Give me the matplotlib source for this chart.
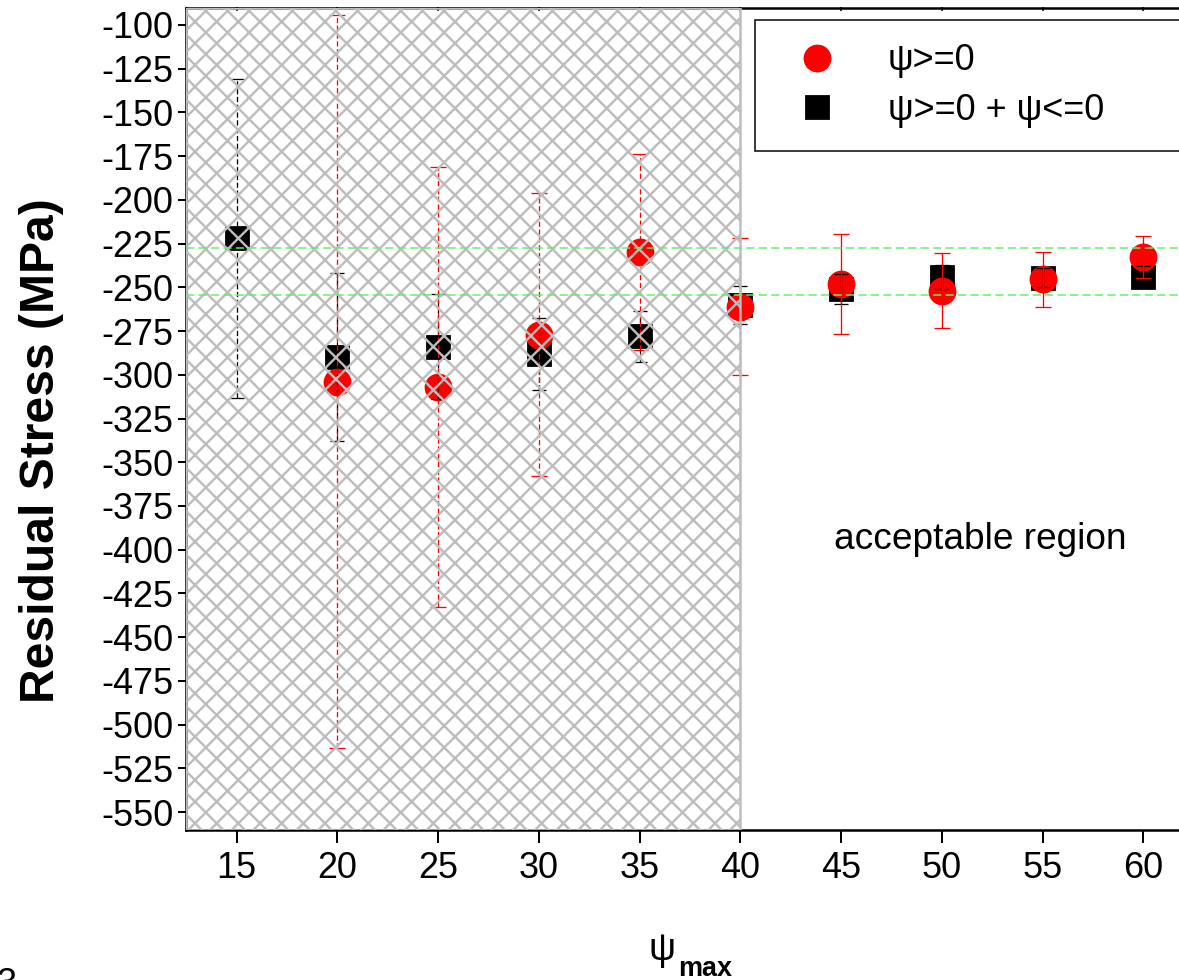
import numpy as np
import matplotlib
matplotlib.use('Agg')
import matplotlib.pyplot as plt

# --- data ---
psi_max = np.array([15, 20, 25, 30, 35, 40, 45, 50, 55, 60])

# psi>=0 + psi<=0 (black squares)
both_val = np.array([-222, -290, -284, -288, -278, -260, -251, -244, -244.5, -244])
both_err = np.array([91, 48, 30, 20.5, 14.6, 11, 8.7, 7, 5.5, 6])

# psi>=0 (red circles), no point at 15
pos_x = np.array([20, 25, 30, 35, 40, 45, 50, 55, 60])
pos_val = np.array([-304, -307, -277, -230, -261, -248, -252, -245.5, -232.5])
pos_err = np.array([209.5, 126, 81, 56, 39, 28.6, 21.5, 15.5, 12])

band = [-227.5, -254.4]      # green reference lines
hatch_limit = 40             # below this psi_max the region is excluded
y_ticks = np.arange(-550, -99, 25)
x_ticks = np.arange(15, 61, 5)

# --- figure setup (pixel based: 1179x980 @ 130 dpi) ---
DPI = 130
W, H = 1179, 980
def pt(px):
    return px * 72.0 / DPI

plt.rcParams['font.family'] = ['Liberation Sans', 'DejaVu Sans']
plt.rcParams['axes.unicode_minus'] = False
plt.rcParams['hatch.color'] = '#bdbdbd'
plt.rcParams['hatch.linewidth'] = pt(2.4)

fig = plt.figure(figsize=(W / DPI, H / DPI), dpi=DPI)
ax_l, ax_r, ax_t, ax_b = 186.3, 1193.7, 7.5, 829.5
ax = fig.add_axes([ax_l / W, 1 - ax_b / H, (ax_r - ax_l) / W, (ax_b - ax_t) / H])
ax.set_xlim(12.5, 62.5)
ax.set_ylim(-560, -90)

# markers
sq, = ax.plot(psi_max, both_val, 's', color='black', markersize=pt(23), zorder=2)
ci, = ax.plot(pos_x, pos_val, 'o', color='red', markersize=pt(26), zorder=3)

# error bars: dashed inside the hatched zone, solid outside
def draw_err(x, y, e, color, cap):
    inside = x <= hatch_limit
    for mask, ls in [(inside, (0, (4, 2))), (~inside, '-')]:
        if not mask.any():
            continue
        eb = ax.errorbar(x[mask], y[mask], yerr=e[mask], fmt='none', ecolor=color,
                         elinewidth=pt(1.3), capsize=pt(cap), capthick=pt(1.3), zorder=4)
        for lc in eb[2]:
            lc.set_linestyle(ls)

draw_err(psi_max, both_val, both_err, 'black', 7)
draw_err(pos_x, pos_val, pos_err, 'red', 8)

# excluded region
ax.axvspan(12.5, hatch_limit, facecolor='none', edgecolor='#bdbdbd', hatch='xx',
           linewidth=pt(2.5), zorder=5)

for yb in band:
    ax.axhline(yb, color='#66ee66', linewidth=pt(1.5), linestyle=(0, (5.5, 2.8)), zorder=6)

ax.text(51.9, -394, 'acceptable region', fontsize=pt(37), ha='center', va='center')

# axes styling
ax.set_xticks(x_ticks)
ax.set_yticks(y_ticks)
ax.set_yticklabels([str(v) for v in y_ticks])
ax.tick_params(axis='x', direction='out', length=pt(13), width=pt(2), pad=pt(9),
               labelsize=pt(36))
ax.tick_params(axis='y', direction='out', length=pt(8), width=pt(2), pad=pt(5),
               labelsize=pt(36))
ax.spines['right'].set_visible(False)
for s in ['left', 'bottom', 'top']:
    ax.spines[s].set_linewidth(pt(2.5))

# top ticks: short, inward
sec = ax.secondary_xaxis('top')
sec.set_xticks(x_ticks)
sec.tick_params(direction='in', length=pt(4), width=pt(1.5), labeltop=False)
sec.spines['top'].set_visible(False)

# legend box runs past the right edge of the picture
leg = ax.legend([ci, sq], ['ψ>=0', 'ψ>=0 + ψ<=0'], loc='upper left', mode='expand',
                bbox_to_anchor=(755 / W, 1 - 155 / H, (1220 - 755) / W, (155 - 20) / H),
                bbox_transform=fig.transFigure, borderaxespad=0, fontsize=pt(36),
                frameon=True, fancybox=False, edgecolor='black', framealpha=1,
                borderpad=0.65, handlelength=2.14, handletextpad=0.9, labelspacing=0.4)
leg.get_frame().set_linewidth(pt(1.5))
leg.set_zorder(10)

# labels
fig.text(42 / W, 1 - 451 / H, 'Residual Stress (MPa)', rotation=90, fontsize=pt(48),
         fontweight='bold', ha='center', va='center')
fig.text(661.7 / W, 1 - 950 / H, 'ψ', fontsize=pt(38), ha='center', va='center')
fig.text(678 / W, 1 - 976 / H, 'max', fontsize=pt(27), fontweight='bold',
         ha='left', va='baseline')
fig.text(-3 / W, 1 - 994 / H, '3', fontsize=pt(36), ha='left', va='baseline')

fig.savefig('out.png', dpi=DPI)
